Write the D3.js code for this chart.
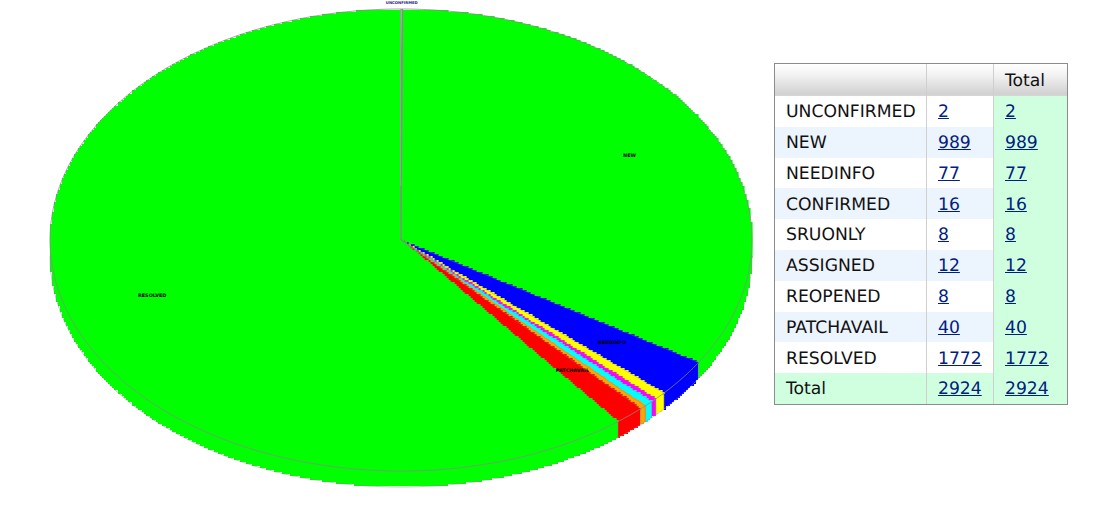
<!DOCTYPE html>
<html>
<head>
<meta charset="utf-8">
<script src="https://cdn.jsdelivr.net/npm/d3@7"></script>
<style>
html,body{margin:0;padding:0;background:#fff;overflow:hidden}
#chart{position:absolute;left:0;top:0}
table{position:absolute;left:774px;top:63px;width:294px;border-collapse:separate;border-spacing:0;border:1px solid #8c8c8c;box-sizing:border-box;height:342px;table-layout:fixed;
font-family:"DejaVu Sans",sans-serif;font-size:17.2px;color:#111;text-rendering:geometricPrecision}
th,td{padding:1.6px 0 0 11px;text-align:left;font-weight:normal;height:30.8px;box-sizing:border-box;border-right:1px solid #cfcfcf;white-space:nowrap}
th:last-child,td:last-child{border-right:none;background:#cfffdf}
th{height:32px;background:linear-gradient(#ffffff,#f2f2f2 35%,#d2d2d2 92%,#d6d6d6);padding-top:2px}
th:last-child{background:linear-gradient(#ffffff,#f2f2f2 35%,#d2d2d2 92%,#d6d6d6)}
tbody tr:nth-child(even) td{background:#ecf4fd}
tbody tr:nth-child(even) td:last-child{background:#cfffdf}
tbody tr.total td{background:#cfffdf;padding-top:0}
a{color:#002080;text-decoration:underline}
</style>
</head>
<body>
<svg id="chart" width="760" height="511"></svg>
<table id="tbl"></table>
<script>
const categories = ["UNCONFIRMED","NEW","NEEDINFO","CONFIRMED","SRUONLY","ASSIGNED","REOPENED","PATCHAVAIL","RESOLVED"];
const values = [2,989,77,16,8,12,8,40,1772];
const sliceColors = ["#ff0000","#00ff00","#0000ff","#ffff00","#ff00ff","#00ffff","#ffa500","#ff0000","#00ff00"];
const labelRadius = [1.02,0.75,0.75,null,null,null,null,0.75,0.75];
const labelColors = ["#1a1a8c","#000","#000","#000","#000","#000","#000","#000","#000"];
const totalLabel = "Total";
const totalValue = 2924;
const headers = ["","","Total"];

const svg = d3.select("#chart");
const x = d3.scaleLinear().domain([-1,1]).range([50,752]);
const y = d3.scaleLinear().domain([1,-1]).range([9,471]);
const depth = 16;
const px = (a,r=1)=>x(r*Math.sin(a));
const py = (a,r=1)=>y(r*Math.cos(a));
const outline = "#8a8a8a";
const grain = 2;                         // the source image is a coarse bitmap
const q = v=>Math.round(v/grain)*grain;

const arcs = d3.pie().sort(null).value(d=>d)(values);
const line = d3.line();
const stepLine = d3.line().curve(d3.curveStepAfter);

function samples(a0,a1){
  const n = Math.max(2,Math.ceil(Math.abs(a1-a0)/0.006));
  return d3.range(n+1).map(i=>a0+(a1-a0)*i/n);
}
const radial = d3.range(0,1.0001,0.005);
function outlinePts(d){
  return radial.map(r=>[px(d.startAngle,r),py(d.startAngle,r)])
    .concat(samples(d.startAngle,d.endAngle).map(a=>[px(a),py(a)]))
    .concat(radial.slice().reverse().map(r=>[px(d.endAngle,r),py(d.endAngle,r)]));
}
const coarse = pts=>pts.map(p=>[q(p[0]),q(p[1])]);

// side wall: only the front half of the disc is seen
const wall = svg.append("g");
arcs.forEach((d,i)=>{
  const a0 = Math.max(d.startAngle,Math.PI/2), a1 = Math.min(d.endAngle,Math.PI*1.5);
  if(a1<=a0) return;
  const top = samples(a0,a1).map(a=>[px(a),py(a)-2]);
  const bot = samples(a1,a0).map(a=>[px(a),py(a)+depth]);
  wall.append("path").attr("d",stepLine(coarse(top.concat(bot)))+"Z")
    .attr("fill",sliceColors[i]).attr("shape-rendering","crispEdges");
});

// top face
const face = svg.append("g");
arcs.forEach((d,i)=>{
  face.append("path").attr("d",stepLine(coarse(outlinePts(d)))+"Z")
    .attr("fill",sliceColors[i]).attr("stroke",sliceColors[i]).attr("stroke-width",0.6)
    .attr("shape-rendering","crispEdges");
});
// wall edges and thin outline over the faces
arcs.forEach((d,i)=>{
  const a1 = d.endAngle;
  if(a1>Math.PI/2 && a1<Math.PI*1.5)
    face.append("path").attr("d",line([[px(a1),py(a1)],[px(a1),py(a1)+depth]]))
      .attr("stroke",outline).attr("stroke-width",0.6).attr("fill","none");
  // radial edges
  const pts = [[px(d.startAngle),py(d.startAngle)],[x(0),y(0)],[px(d.endAngle),py(d.endAngle)]];
  face.append("path").attr("d",line(pts))
    .attr("fill","none").attr("stroke",outline).attr("stroke-opacity",i===0?1:0.55)
    .attr("stroke-width",i===0?1.2:0.4);
  // rim of the top face
  face.append("path").attr("d",line(samples(d.startAngle,d.endAngle).map(a=>[px(a),py(a)])))
    .attr("fill","none").attr("stroke",outline).attr("stroke-width",0.8);
});
// lower rim outline
const rim = samples(Math.PI/2,Math.PI*1.5);
svg.append("path").attr("d",line(rim.map(a=>[px(a),py(a)+depth])))
  .attr("fill","none").attr("stroke",outline).attr("stroke-opacity",0.7).attr("stroke-width",0.7);

// labels
arcs.forEach((d,i)=>{
  if(labelRadius[i]===null) return;
  const m=(d.startAngle+d.endAngle)/2;
  svg.append("text").attr("x",px(m,labelRadius[i])-(i===1?2:0)).attr("y",py(m,labelRadius[i])-1)
    .attr("text-anchor","middle").attr("dominant-baseline","middle")
    .attr("font-family","'DejaVu Sans',sans-serif").attr("font-size",i===0?3.8:4.9).attr("font-weight","bold")
    .attr("fill",labelColors[i]).text(categories[i]);
});

// table
const tbl = d3.select("#tbl");
const cg = tbl.append("colgroup");
[152,67,73].forEach(w=>cg.append("col").style("width",w+"px"));
tbl.append("thead").append("tr").selectAll("th").data(headers).join("th").text(d=>d);
const tb = tbl.append("tbody");
const rows = categories.map((c,i)=>({label:c,v:values[i]})).concat([{label:totalLabel,v:totalValue,total:true}]);
rows.forEach(r=>{
  const tr = tb.append("tr").classed("total",!!r.total);
  tr.append("td").text(r.label);
  tr.append("td").append("a").attr("href","#").text(r.v);
  tr.append("td").append("a").attr("href","#").text(r.v);
});
</script>
</body>
</html>
